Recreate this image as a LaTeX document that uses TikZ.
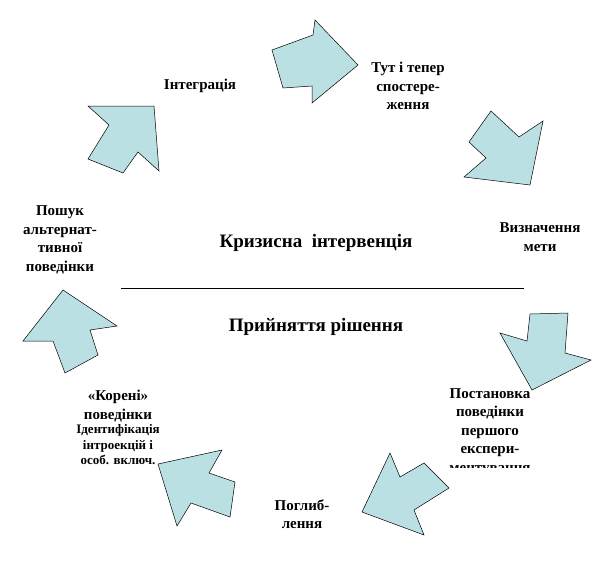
\documentclass[tikz,border=0pt]{standalone}
\usepackage{fontspec}
\setmainfont{Liberation Serif}
\begin{document}
\begin{tikzpicture}[x=1pt,y=-1pt,
  arr/.style={draw=black,line width=0.5pt,fill={rgb,255:red,187;green,224;blue,227}},
  lbl/.style={font=\bfseries\fontsize{15}{18.5}\selectfont,align=center,inner sep=0pt},
  big/.style={font=\bfseries\fontsize{19}{20}\selectfont,inner sep=0pt}]
\useasboundingbox (0,0) rectangle (612,576);
\draw[arr] (272,50)--(313,35)--(315,20)--(358,65)--(312,103)--(312,86)--(283,88)--cycle;
\draw[arr] (491,111)--(519,137)--(543,121)--(530,185)--(464,177)--(486,158)--(469,142)--cycle;
\draw[arr] (530,314)--(568,313)--(565,353)--(591,360)--(532,390)--(500,333)--(527,341)--cycle;
\draw[arr] (390,453)--(400,477)--(424,463)--(449,488)--(414,510)--(424,535)--(362,512)--cycle;
\draw[arr] (158,464)--(222,450)--(209,473)--(235,482)--(230,517)--(191,503)--(177,526)--cycle;
\draw[arr] (63,290)--(117,326)--(90,330)--(98,355)--(65,373)--(53,341)--(23,341)--cycle;
\draw[arr] (88,106)--(154,106)--(159,171)--(138,152)--(123,173)--(88,159)--(109,125)--cycle;
\node[lbl] (integ) at (200,86) {Інтеграція};
\node[lbl] (tut) at (408,86) {Тут і тепер\\спостере-\\ження};
\node[lbl] (vyzn) at (540,237) {Визначення\\мети};
\begin{scope}
\clip (400,380) rectangle (590,467);
\node[lbl,anchor=north] (post) at (490,388) {Постановка\\поведінки\\першого\\експери-\\ментування};
\end{scope}
\node[lbl] (pogl) at (302,514) {Поглиб-\\лення};
\node[lbl,anchor=north] (kor) at (118,390) {«Корені»\\поведінки\\[-4pt]{\fontsize{13}{15}\selectfont Ідентифікація}\\[-3pt]{\fontsize{13}{15}\selectfont інтроекцій і}\\[-3pt]{\fontsize{13}{15}\selectfont особ. включ.}};
\node[lbl] (posh) at (60,240) {Пошук\\альтернат-\\тивної\\поведінки};
\node[big] (kryz) at (316,243) {Кризисна\ \ інтервенція};
\node[big] (pryj) at (316,327) {Прийняття рішення};
\coordinate (l1) at (121,288);
\coordinate (l2) at (524,288);
\draw[line width=0.6pt] (l1)--(l2);
\end{tikzpicture}
\end{document}
